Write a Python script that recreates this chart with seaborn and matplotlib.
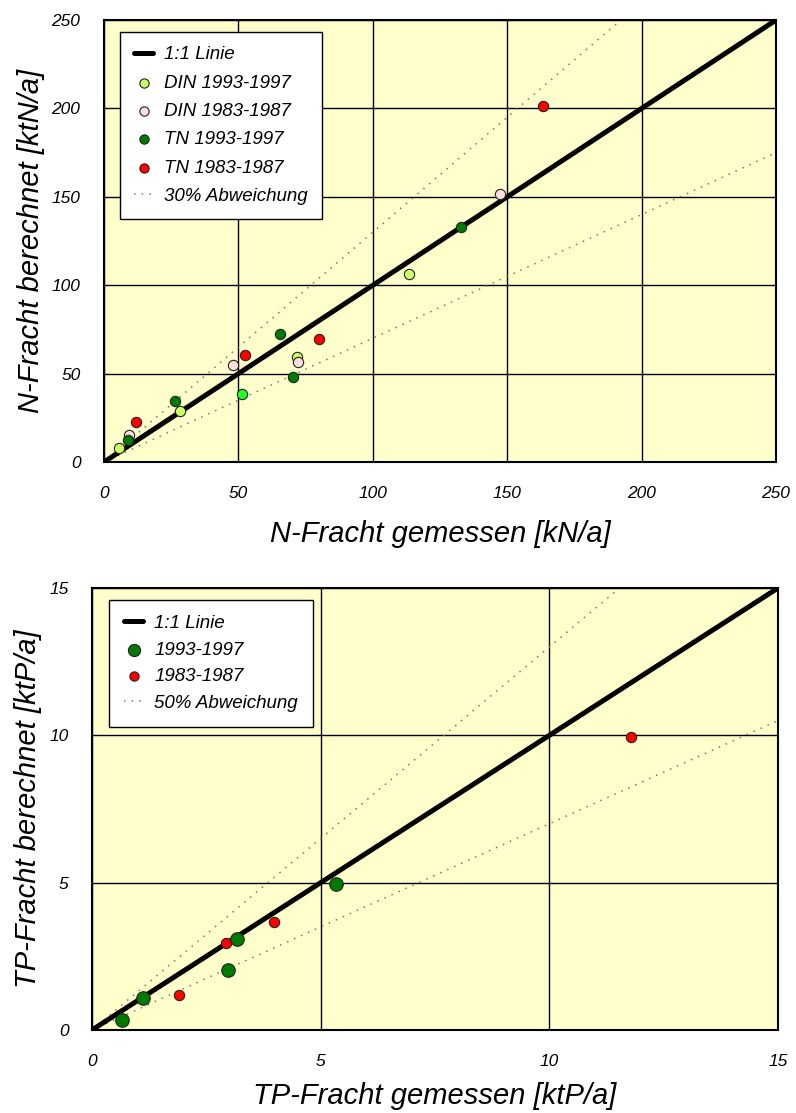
import numpy as np
import matplotlib
matplotlib.use("Agg")
import matplotlib.pyplot as plt
from matplotlib.ticker import MultipleLocator
import seaborn as sns

# N-Fracht (top panel), kN/a measured vs. calculated
din93_x = [5.6, 28.3, 71.8, 113.5]
din93_y = [8.1, 29.0, 59.6, 106.3]
din93_extra_x = [51.4]   # bright green point
din93_extra_y = [38.5]
din83_x = [9.4, 47.9, 72.2, 147.3]
din83_y = [15.3, 54.7, 56.6, 151.8]
tn93_x = [8.8, 26.4, 65.5, 70.2, 132.8]
tn93_y = [12.3, 34.3, 72.6, 48.1, 132.7]
tn83_x = [11.9, 52.6, 80.0, 163.3]
tn83_y = [22.4, 60.5, 69.6, 201.2]

# TP-Fracht (bottom panel), ktP/a
tp93_x = [0.65, 1.12, 3.16, 2.97, 5.33]
tp93_y = [0.35, 1.10, 3.10, 2.04, 4.96]
tp83_x = [1.90, 2.92, 3.97, 11.78]
tp83_y = [1.18, 2.94, 3.67, 9.93]

dev = 0.3  # dotted deviation lines (slope 1 +/- dev)

sns.set_style("white")
plt.rcParams['font.family'] = ['Liberation Sans', 'DejaVu Sans']
plt.rcParams['font.style'] = 'italic'
plt.rcParams['text.color'] = 'black'
plt.rcParams['axes.labelcolor'] = 'black'
plt.rcParams['xtick.color'] = 'black'
plt.rcParams['ytick.color'] = 'black'

fig = plt.figure(figsize=(7.96, 11.13), dpi=100)
ax1 = fig.add_axes([0.1307, 0.5849, 0.8442, 0.3971])
ax2 = fig.add_axes([0.1156, 0.0746, 0.8618, 0.3971])

YELLOW = '#ffffcc'


def base(ax, lim, major, minor):
    ax.set_facecolor(YELLOW)
    xs = np.array([0, lim])
    ax.grid(True, color='black', linewidth=1.0)
    ax.set_axisbelow(True)
    sns.lineplot(x=xs, y=xs, color='black', linewidth=3.6, ax=ax,
                 label='1:1 Linie', zorder=3)
    sns.lineplot(x=xs, y=xs * (1 + dev), color='#7a7a6a', linewidth=1.1,
                 linestyle=(0, (1, 4)), ax=ax, label='dev', zorder=2)
    sns.lineplot(x=xs, y=xs * (1 - dev), color='#7a7a6a', linewidth=1.1,
                 linestyle=(0, (1, 4)), ax=ax, label='_nolegend_', zorder=2)
    ax.set_xlim(0, lim)
    ax.set_ylim(0, lim)
    ax.xaxis.set_major_locator(MultipleLocator(major))
    ax.yaxis.set_major_locator(MultipleLocator(major))
    ax.xaxis.set_minor_locator(MultipleLocator(minor))
    ax.yaxis.set_minor_locator(MultipleLocator(minor))
    ax.tick_params(which='both', direction='in', colors='black',
                   labelsize=12.5, pad=17)
    ax.tick_params(which='major', length=0)
    ax.tick_params(which='minor', length=6, width=1)
    for s in ax.spines.values():
        s.set_color('black')
        s.set_linewidth(1.5)
        s.set_zorder(5)


def scat(ax, x, y, color, size, label):
    sns.scatterplot(x=x, y=y, color=color, s=size, edgecolor='#222222',
                    linewidth=0.8, ax=ax, label=label, zorder=4)


def make_legend(ax, order, names, anchor, spacing, pad):
    h, l = ax.get_legend_handles_labels()
    d = dict(zip(l, h))
    leg = ax.legend([d[o] for o in order], names, loc='upper left',
                    bbox_to_anchor=anchor, fontsize=13.5, frameon=True,
                    fancybox=False, edgecolor='black', framealpha=1,
                    handlelength=1.0, handletextpad=0.6,
                    labelspacing=spacing, borderpad=pad,
                    markerscale=0.9, borderaxespad=0)
    leg.get_frame().set_linewidth(1.0)
    leg.set_zorder(6)
    return leg


# ---- top panel ----
base(ax1, 250, 50, 25)
scat(ax1, din93_x, din93_y, '#ccff66', 55, 'DIN 1993-1997')
scat(ax1, din93_extra_x, din93_extra_y, '#22ff22', 55, '_nolegend_')
scat(ax1, din83_x, din83_y, '#ffdede', 55, 'DIN 1983-1987')
scat(ax1, tn93_x, tn93_y, '#007a00', 55, 'TN 1993-1997')
scat(ax1, tn83_x, tn83_y, '#ff0000', 55, 'TN 1983-1987')
ax1.set_xlabel('N-Fracht gemessen [kN/a]', fontsize=21, labelpad=14)
ax1.set_ylabel('N-Fracht berechnet [ktN/a]', fontsize=21, labelpad=5)

make_legend(ax1,
            ['1:1 Linie', 'DIN 1993-1997', 'DIN 1983-1987', 'TN 1993-1997',
             'TN 1983-1987', 'dev'],
            ['1:1 Linie', 'DIN 1993-1997', 'DIN 1983-1987', 'TN 1993-1997',
             'TN 1983-1987', '30% Abweichung'],
            (0.024, 0.973), 0.6, 0.75)

# ---- bottom panel ----
base(ax2, 15, 5, 2.5)
scat(ax2, tp93_x, tp93_y, '#007a00', 95, '1993-1997')
scat(ax2, tp83_x, tp83_y, '#ff0000', 55, '1983-1987')
ax2.set_xlabel('TP-Fracht gemessen [ktP/a]', fontsize=21, labelpad=10)
ax2.set_ylabel('TP-Fracht berechnet [ktP/a]', fontsize=21, labelpad=5)

make_legend(ax2,
            ['1:1 Linie', '1993-1997', '1983-1987', 'dev'],
            ['1:1 Linie', '1993-1997', '1983-1987', '50% Abweichung'],
            (0.025, 0.973), 0.5, 0.8)

fig.savefig('out.png', dpi=100, facecolor='white')
